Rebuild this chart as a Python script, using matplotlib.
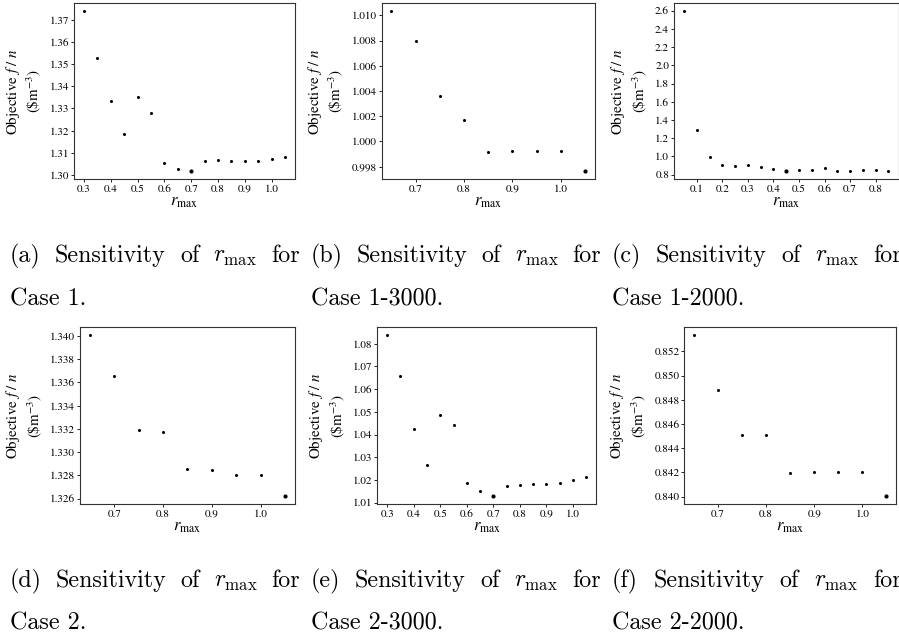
import matplotlib
matplotlib.use("Agg")
import matplotlib.pyplot as plt
from matplotlib.ticker import MultipleLocator, ScalarFormatter

plt.rcParams["font.family"] = "STIXGeneral"
plt.rcParams["mathtext.fontset"] = "stix"

FIG_W, FIG_H = 899, 638

# r_max grids
r_case = [0.30, 0.35, 0.40, 0.45, 0.50, 0.55, 0.60, 0.65,
          0.70, 0.75, 0.80, 0.85, 0.90, 0.95, 1.00, 1.05]
r_fine = [0.65, 0.70, 0.75, 0.80, 0.85, 0.90, 0.95, 1.00, 1.05]
r_wide = [0.05, 0.10, 0.15, 0.20, 0.25, 0.30, 0.35, 0.40, 0.45,
          0.50, 0.55, 0.60, 0.65, 0.70, 0.75, 0.80, 0.85]

# objective f/n values
obj_case1 = [1.3738, 1.3528, 1.3334, 1.3184, 1.3354, 1.3280, 1.3054, 1.3029,
             1.3017, 1.3065, 1.3069, 1.3062, 1.3062, 1.3062, 1.3074, 1.3081]
obj_case1_3000 = [1.01032, 1.00799, 1.00358, 1.00167, 0.99916,
                  0.99925, 0.99925, 0.99925, 0.99763]
obj_case1_2000 = [2.5925, 1.291, 0.998, 0.910, 0.899, 0.906, 0.888, 0.859, 0.837,
                  0.851, 0.855, 0.870, 0.844, 0.844, 0.848, 0.848, 0.844]
obj_case2 = [1.34006, 1.33654, 1.33189, 1.33174, 1.32851,
             1.32842, 1.32802, 1.32802, 1.32620]
obj_case2_3000 = [1.08368, 1.06570, 1.04242, 1.02650, 1.04846, 1.04419, 1.01869, 1.01530,
                  1.01280, 1.01752, 1.01781, 1.01840, 1.01840, 1.01884, 1.02017, 1.02120]
obj_case2_2000 = [0.85333, 0.84885, 0.84512, 0.84512, 0.84199,
                  0.84207, 0.84207, 0.84207, 0.84003]

panel_tags = ["(a)", "(b)", "(c)", "(d)", "(e)", "(f)"]
case_names = ["Case 1.", "Case 1-3000.", "Case 1-2000.",
              "Case 2.", "Case 2-3000.", "Case 2-2000."]
y_steps = [0.01, 0.002, 0.2, 0.002, 0.01, 0.002]

panels = [
    (r_case, obj_case1),
    (r_fine, obj_case1_3000),
    (r_wide, obj_case1_2000),
    (r_fine, obj_case2),
    (r_case, obj_case2_3000),
    (r_fine, obj_case2_2000),
]

# axes boxes in pixels: left, top, right, bottom
boxes = [
    (74, 3.3, 295, 179.3),
    (381.7, 3.3, 594.7, 179.3),
    (674, 3.3, 898.5, 179.3),
    (80, 327.3, 295, 504.3),
    (377.3, 327.3, 596, 504.3),
    (684.3, 327.3, 896, 504.3),
]

fig = plt.figure(figsize=(FIG_W / 100, FIG_H / 100), dpi=100)

for (xs, ys), box, ystep in zip(panels, boxes, y_steps):
    l, t, r, b = box
    ax = fig.add_axes([l / FIG_W, 1 - b / FIG_H, (r - l) / FIG_W, (b - t) / FIG_H])
    ax.plot(xs, ys, "o", color="k", ms=2.2, mec="none")
    best = ys.index(min(ys))
    ax.plot(xs[best], ys[best], "o", color="k", ms=3.0, mec="none")
    ax.xaxis.set_major_locator(MultipleLocator(0.1))
    ax.yaxis.set_major_locator(MultipleLocator(ystep))
    for axis in (ax.xaxis, ax.yaxis):
        axis.set_major_formatter(ScalarFormatter(useOffset=False))
    ax.tick_params(direction="out", length=2, width=0.6, labelsize=8, pad=1.5)
    for sp in ax.spines.values():
        sp.set_color("0.2")
        sp.set_linewidth(0.8)
    ax.set_xlabel(r"$r_{\max}$", fontsize=12, labelpad=0.5)
    ax.set_ylabel("Objective $f\\ /\\ n$\n(\\$m$^{-3}$)", fontsize=10.8,
                  labelpad=4.5, multialignment="center")

# subfigure captions, first line justified like the LaTeX source
cap_size = 17.3
col_x = [10, 311, 612]
cap_w = 290
row_base = [(262, 305), (587, 630)]
renderer = fig.canvas.get_renderer()

for i, (tag, case) in enumerate(zip(panel_tags, case_names)):
    x0 = col_x[i % 3]
    y1, y2 = row_base[i // 3]
    words = [tag, "Sensitivity", "of", r"$r_{\max}$", "for"]
    items = [fig.text(0, 1 - y1 / FIG_H, w, fontsize=cap_size, family="cmr10",
                      math_fontfamily="cm", va="baseline", ha="left") for w in words]
    widths = [it.get_window_extent(renderer).width for it in items]
    gap = (cap_w - sum(widths)) / (len(words) - 1)
    x = x0
    for it, w in zip(items, widths):
        it.set_x(x / FIG_W)
        x += w + gap
    fig.text(x0 / FIG_W, 1 - y2 / FIG_H, case, fontsize=cap_size, family="cmr10",
             va="baseline", ha="left")

fig.savefig("out.png", dpi=100)
